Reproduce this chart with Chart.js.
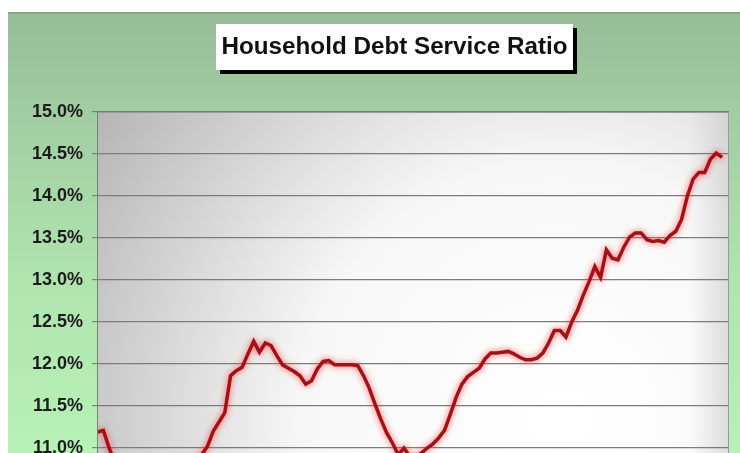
<!DOCTYPE html>
<html>
<head>
<meta charset="utf-8">
<script src="https://cdn.jsdelivr.net/npm/chart.js@4.4.1/dist/chart.umd.min.js"></script>
<style>
  html, body { margin: 0; padding: 0; background: #fff; overflow: hidden; }
  #wrap { position: relative; width: 740px; height: 520px; }
</style>
</head>
<body>
<div id="wrap"><canvas id="dsr" width="740" height="520"></canvas></div>
<script>
// debt service ratio, quarterly readings (percent of disposable income)
const dsrValues = [
  11.19, 11.21, 11.00, 10.82, 10.75, 10.70, 10.68, 10.66, 10.64, 10.62,
  10.60, 10.60, 10.62, 10.65, 10.70, 10.75, 10.80, 10.85, 10.92, 11.02,
  11.20, 11.31, 11.42, 11.86, 11.92, 11.96, 12.12, 12.27, 12.14, 12.25,
  12.22, 12.10, 11.99, 11.95, 11.91, 11.86, 11.76, 11.80, 11.94, 12.03,
  12.04, 11.99, 11.99, 11.99, 11.99, 11.98, 11.86, 11.71, 11.52, 11.34,
  11.18, 11.06, 10.92, 11.00, 10.90, 10.90, 10.94, 11.00, 11.05, 11.12,
  11.21, 11.40, 11.60, 11.76, 11.85, 11.90, 11.95, 12.06, 12.13, 12.13,
  12.14, 12.15, 12.12, 12.08, 12.05, 12.05, 12.07, 12.13, 12.25, 12.40,
  12.40, 12.32, 12.50, 12.64, 12.82, 12.98, 13.16, 13.03, 13.36, 13.26,
  13.24, 13.39, 13.51, 13.56, 13.56, 13.48, 13.46, 13.47, 13.45, 13.53,
  13.58, 13.72, 14.00, 14.20, 14.28, 14.28, 14.44, 14.51, 14.46
];
const yTicks = [10.5, 11.0, 11.5, 12.0, 12.5, 13.0, 13.5, 14.0, 14.5, 15.0];
const chartTitle = 'Household Debt Service Ratio';

const FONT = '"Liberation Sans", Arial, sans-serif';

// green panel, shaded plot area and the boxed title
const decor = {
  id: 'decor',
  beforeDraw(chart) {
    const ctx = chart.ctx;
    const a = chart.chartArea;
    const W = chart.width, H = chart.height;
    ctx.save();
    ctx.fillStyle = '#ffffff';
    ctx.fillRect(0, 0, W, H);

    let g = ctx.createLinearGradient(0, 12, 0, 460);
    g.addColorStop(0, '#97bc97');
    g.addColorStop(0.25, '#a3cea3');
    g.addColorStop(0.6, '#afe4af');
    g.addColorStop(1, '#b8f2b8');
    ctx.fillStyle = g;
    ctx.fillRect(8, 12, W - 8, H - 12);
    ctx.fillStyle = '#88a888';
    ctx.fillRect(8, 12, W - 8, 2);

    // plot area: grey top-left fading to white
    const rg = ctx.createRadialGradient(560, 420, 10, 560, 420, 560);
    rg.addColorStop(0, '#ffffff');
    rg.addColorStop(0.45, '#f7f7f7');
    rg.addColorStop(1, '#b4b4b4');
    ctx.fillStyle = rg;
    ctx.fillRect(a.left, a.top, a.right - a.left, a.bottom - a.top);
    const eg = ctx.createLinearGradient(a.right - 40, 0, a.right, 0);
    eg.addColorStop(0, 'rgba(200,200,200,0)');
    eg.addColorStop(1, 'rgba(200,200,200,0.6)');
    ctx.fillStyle = eg;
    ctx.fillRect(a.right - 40, a.top, 40, a.bottom - a.top);

    // title box with drop shadow
    const bx = 216, by = 24, bw = 357, bh = 46;
    ctx.fillStyle = '#000';
    ctx.fillRect(bx + 4, by + 4, bw, bh);
    ctx.fillStyle = '#fff';
    ctx.fillRect(bx, by, bw, bh);
    ctx.font = 'bold 23px ' + FONT;
    const tw = ctx.measureText(chartTitle).width;
    const sx = 346 / tw;
    ctx.translate(bx + bw / 2, by + bh / 2 + 1);
    ctx.scale(sx, 1);
    ctx.fillStyle = '#111';
    ctx.textAlign = 'center';
    ctx.textBaseline = 'middle';
    ctx.fillText(chartTitle, 0, 0);
    ctx.restore();
  },
  afterDraw(chart) {
    const ctx = chart.ctx;
    const a = chart.chartArea;
    ctx.save();
    ctx.strokeStyle = '#9a9a9a';
    ctx.lineWidth = 1;
    ctx.beginPath();
    ctx.moveTo(a.left, a.top + 0.5);
    ctx.lineTo(a.right - 0.5, a.top + 0.5);
    ctx.lineTo(a.right - 0.5, a.bottom);
    ctx.stroke();
    ctx.strokeStyle = '#6f8a6f';
    ctx.beginPath();
    ctx.moveTo(a.left + 0.5, a.top);
    ctx.lineTo(a.left + 0.5, a.bottom);
    ctx.stroke();
    ctx.restore();
  },
  beforeDatasetDraw(chart) {
    const ctx = chart.ctx;
    ctx.save();
    ctx.shadowColor = 'rgba(255,60,60,0.9)';
    ctx.shadowBlur = 6;
  },
  afterDatasetDraw(chart) {
    chart.ctx.restore();
  }
};

new Chart(document.getElementById('dsr'), {
  type: 'line',
  data: {
    datasets: [{
      label: 'Debt service ratio',
      data: dsrValues.map((v, i) => ({ x: i, y: v })),
      borderColor: '#a0121a',
      borderWidth: 3.5,
      pointRadius: 0,
      tension: 0,
      fill: false
    }]
  },
  options: {
    responsive: false,
    animation: false,
    events: [],
    layout: { padding: { left: 0, top: 112, right: 11, bottom: 30 } },
    plugins: { legend: { display: false }, tooltip: { enabled: false } },
    scales: {
      x: {
        type: 'linear',
        display: false,
        min: -0.1,
        max: 109.2
      },
      y: {
        min: 10.5,
        max: 15,
        afterBuildTicks(scale) { scale.ticks = yTicks.map(v => ({ value: v })); },
        afterFit(scale) { scale.width = 97; },
        border: { display: false },
        grid: {
          color: '#7c7c7c',
          lineWidth: 1.2,
          drawTicks: true,
          tickLength: 5,
          tickColor: '#6f8a6f'
        },
        ticks: {
          padding: 9,
          color: '#1b1b1b',
          font: { family: FONT, size: 18, weight: 'bold' },
          callback: v => v.toFixed(1) + '%'
        }
      }
    }
  },
  plugins: [decor]
});
</script>
</body>
</html>
